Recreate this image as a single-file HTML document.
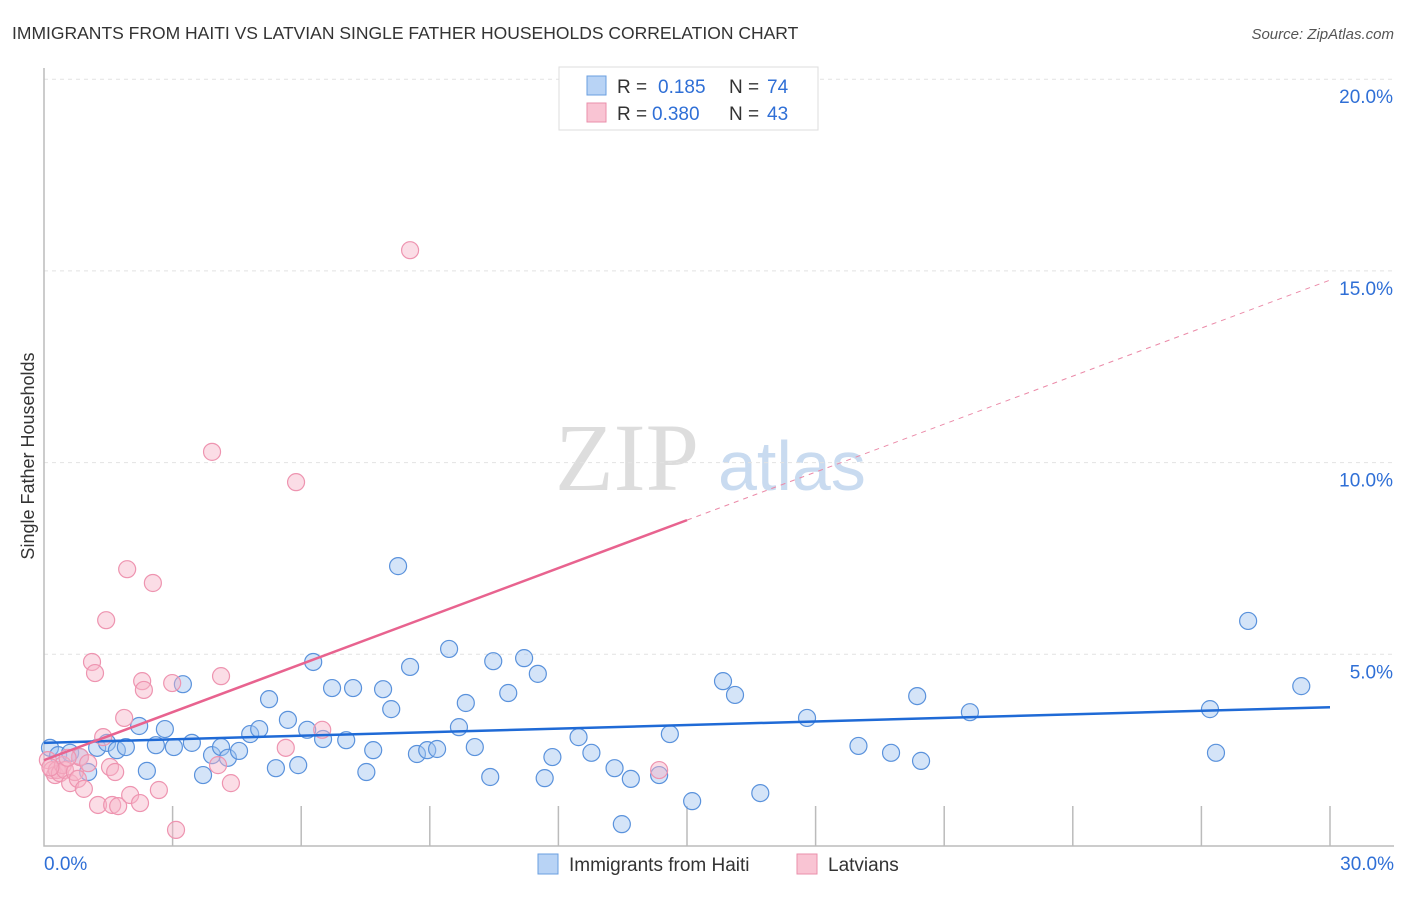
<!DOCTYPE html>
<html><head><meta charset="utf-8"><style>
body{margin:0;background:#fff;font-family:"Liberation Sans",sans-serif;}
</style></head><body>
<svg width="1406" height="892" xmlns="http://www.w3.org/2000/svg" font-family="Liberation Sans, sans-serif">
<text x="12" y="39" font-size="17.5" fill="#333">IMMIGRANTS FROM HAITI VS LATVIAN SINGLE FATHER HOUSEHOLDS CORRELATION CHART</text>
<text x="1394" y="39" font-size="15" fill="#555" font-style="italic" text-anchor="end">Source: ZipAtlas.com</text>
<text x="555" y="490" font-size="96" fill="#ddd" font-family="Liberation Serif, serif">ZIP</text>
<text x="718" y="490" font-size="70" fill="#c9dbf0">atlas</text>
<g id="grid"></g>
<g id="axes"></g>
<g id="marks"></g>
<text transform="translate(34,456) rotate(-90)" font-size="18" fill="#333" text-anchor="middle">Single Father Households</text>
<g>
<rect x="559" y="67" width="259" height="63" fill="#fff" stroke="#ddd"/>
<rect x="587" y="76" width="19" height="19" fill="#b8d3f5" stroke="#6a9fe0"/>
<rect x="587" y="103" width="19" height="19" fill="#f9c4d3" stroke="#ea8fab"/>
<text x="617" y="93" font-size="19" fill="#333">R = </text><text x="658" y="93" font-size="19" fill="#2f6fd6">0.185</text>
<text x="729" y="93" font-size="19" fill="#333">N = </text><text x="767" y="93" font-size="19" fill="#2f6fd6">74</text>
<text x="617" y="120" font-size="19" fill="#333">R = </text><text x="652" y="120" font-size="19" fill="#2f6fd6">0.380</text>
<text x="729" y="120" font-size="19" fill="#333">N = </text><text x="767" y="120" font-size="19" fill="#2f6fd6">43</text>
</g>
<g>
<rect x="538" y="854" width="20" height="20" fill="#b8d3f5" stroke="#6a9fe0"/>
<text x="569" y="871" font-size="19" fill="#333">Immigrants from Haiti</text>
<rect x="797" y="854" width="20" height="20" fill="#f9c4d3" stroke="#ea8fab"/>
<text x="828" y="871" font-size="19" fill="#333">Latvians</text>
</g>
</svg>
<script>
const haitiX=[0.14,0.33,0.61,0.84,1.03,1.24,1.47,1.70,1.91,2.22,2.40,2.61,2.82,3.03,3.24,3.45,3.71,3.92,4.13,4.29,4.55,4.81,5.02,5.25,5.41,5.69,5.93,6.14,6.28,6.51,6.72,7.05,7.21,7.52,7.68,7.91,8.10,8.26,8.54,8.70,8.94,9.17,9.45,9.68,9.84,10.05,10.41,10.48,10.83,11.20,11.52,11.68,11.86,12.47,12.77,13.31,13.48,13.69,14.35,14.60,15.12,15.84,16.12,16.71,17.80,19.00,19.76,20.37,20.46,21.60,27.20,27.34,28.09,29.33];
const haitiY=[2.56,2.37,2.43,2.32,1.93,2.56,2.69,2.50,2.58,3.13,1.96,2.63,3.05,2.58,4.22,2.69,1.85,2.37,2.58,2.30,2.48,2.92,3.05,3.83,2.03,3.29,2.11,3.03,4.80,2.79,4.12,2.76,4.12,1.93,2.50,4.09,3.57,7.30,4.67,2.40,2.50,2.53,5.14,3.10,3.73,2.58,1.80,4.82,3.99,4.90,4.49,1.77,2.32,2.84,2.43,2.03,0.57,1.75,1.85,2.92,1.17,4.30,3.94,1.38,3.34,2.61,2.43,3.91,2.22,3.49,3.57,2.43,5.87,4.17];
const latX=[0.09,0.19,0.26,0.30,0.37,0.44,0.49,0.61,0.72,0.79,0.84,0.93,1.03,1.12,1.19,1.26,1.38,1.45,1.54,1.59,1.66,1.73,1.87,1.94,2.01,2.24,2.29,2.33,2.54,2.68,2.99,3.08,3.92,4.06,4.13,4.36,5.64,5.88,6.49,8.54,14.35,0.55,0.15];
const latY=[2.24,1.98,1.85,1.98,1.90,2.11,1.98,1.64,1.93,1.75,2.32,1.49,2.16,4.80,4.51,1.07,2.84,5.89,2.06,1.07,1.93,1.04,3.34,7.22,1.33,1.12,4.30,4.07,6.86,1.46,4.25,0.42,10.28,2.11,4.43,1.64,2.56,9.49,3.03,15.54,1.98,2.30,2.05];
const yTicks=[5,10,15,20];
const yTickLabels=["5.0%","10.0%","15.0%","20.0%"];
const xTicks=[0,3,6,9,12,15,18,21,24,27,30];
const haitiTrend=[2.69,3.62];
const latTrend=[2.24,14.76];
const NS="http://www.w3.org/2000/svg";
const sx=v=>44+v/30*1286, sy=v=>846-v*38.34;
function mk(parent,tag,attrs){const e=document.createElementNS(NS,tag);for(const k in attrs)e.setAttribute(k,attrs[k]);document.getElementById(parent).appendChild(e);return e;}
yTicks.forEach((t,i)=>{
 const g=mk('grid','line',{x1:44,x2:1394,y1:sy(t),y2:sy(t),stroke:'#e2e2e2','stroke-dasharray':'4,4'});
 
 
 const l=mk('grid','text',{x:1393,y:sy(t)+24,'font-size':19,fill:'#2f6fd6','text-anchor':'end'});
 l.textContent=yTickLabels[i];
 
 
});
const ax=mk('axes','path',{d:'M44,68 V846 H1394',fill:'none',stroke:'#bbb','stroke-width':1.5});


xTicks.slice(1).forEach(t=>{const e=mk('axes','line',{x1:sx(t),x2:sx(t),y1:806,y2:846,stroke:'#bbb','stroke-width':1.5});
 
 });
const x0=mk('axes','text',{x:44,y:870,'font-size':19,fill:'#2f6fd6'});x0.textContent='0.0%';


const x1=mk('axes','text',{x:1394,y:870,'font-size':19,fill:'#2f6fd6','text-anchor':'end'});x1.textContent='30.0%';


haitiX.forEach((x,i)=>{const c=mk('marks','circle',{cx:sx(x),cy:sy(haitiY[i]),r:8.5,fill:'rgba(160,196,240,0.45)',stroke:'#5a92dc','stroke-width':1.2});
 
 });
latX.forEach((x,i)=>{const c=mk('marks','circle',{cx:sx(x),cy:sy(latY[i]),r:8.5,fill:'rgba(247,180,200,0.45)',stroke:'#ee94b0','stroke-width':1.2});
 
 });
const hl=mk('marks','line',{x1:sx(0),y1:sy(haitiTrend[0]),x2:sx(30),y2:sy(haitiTrend[1]),stroke:'#1f6ad6','stroke-width':2.5});


const lm=latTrend[0]+(latTrend[1]-latTrend[0])*0.5;
const ls=mk('marks','line',{x1:sx(0),y1:sy(latTrend[0]),x2:sx(15),y2:sy(lm),stroke:'#e8638f','stroke-width':2.5});


const ld=mk('marks','line',{x1:sx(15),y1:sy(lm),x2:sx(30),y2:sy(latTrend[1]),stroke:'#eb8aa8','stroke-width':1,'stroke-dasharray':'5,5'});


</script>
</body></html>
